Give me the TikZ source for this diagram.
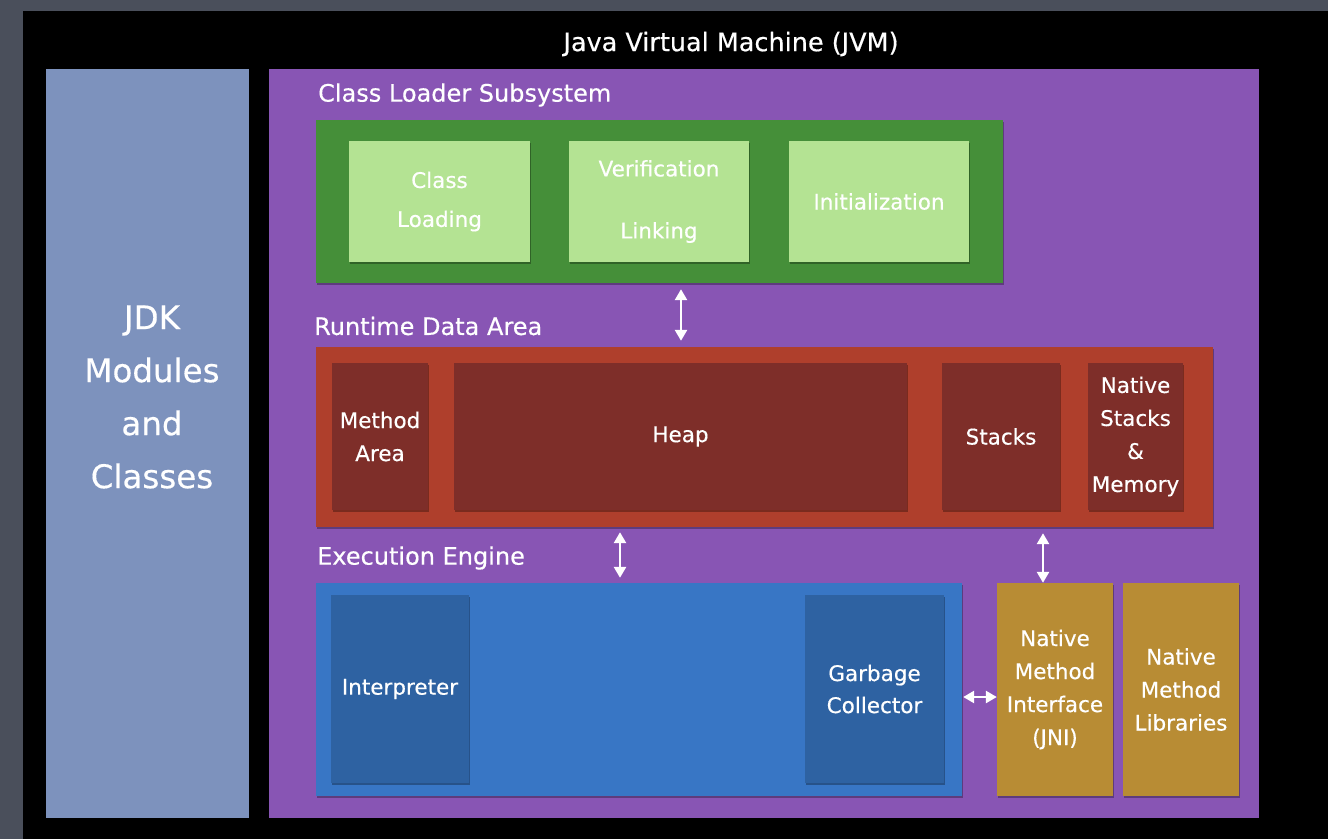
\documentclass[tikz,border=0pt]{standalone}
\usepackage{fontspec}
\setmainfont{DejaVu Sans}[FakeBold=0.4]
\usetikzlibrary{arrows.meta,shadows}
\definecolor{bggrey}{HTML}{4A4F5B}
\definecolor{jdkblue}{HTML}{7D92BD}
\definecolor{jvmpurple}{HTML}{8855B4}
\definecolor{gout}{HTML}{458F39}
\definecolor{gin}{HTML}{B4E393}
\definecolor{rout}{HTML}{AF3F2C}
\definecolor{rin}{HTML}{7E2E29}
\definecolor{bout}{HTML}{3876C5}
\definecolor{bin}{HTML}{2E62A2}
\definecolor{gold}{HTML}{B88C34}
\begin{document}
\begin{tikzpicture}[x=1pt,y=-1pt,
  box/.style={rectangle, draw=none, inner sep=0pt, text=white, align=center},
  shad/.style={drop shadow={shadow xshift=1pt, shadow yshift=-2pt, opacity=.3, fill=black}},
  inner/.style={box, shad, font=\fontsize{21.5}{#1}\selectfont},
  inner/.default=33,
  ttl/.style={text=white, anchor=west, inner sep=0pt, font=\fontsize{24}{28}\selectfont},
  dbl/.style={white, line width=2.6pt, {Triangle[width=12pt,length=11pt]}-{Triangle[width=12pt,length=11pt]}}
]
\useasboundingbox (0,0) rectangle (1328,839);
\fill[bggrey] (0,0) rectangle (1328,839);
\fill[black] (23,11) rectangle (1328,839);

\node[text=white, inner sep=0pt, font=\fontsize{25.5}{28}\selectfont] (jvmtitle) at (731,44) {Java Virtual Machine (JVM)};

% JDK column
\node[box, fill=jdkblue, minimum width=203pt, minimum height=749pt] (jdk) at (147.5,443.5) {};
\node[text=white, align=center, inner sep=0pt, font=\fontsize{32.5}{53}\selectfont] (jdktext) at (152,397) {JDK\\Modules\\and\\Classes};

% JVM area
\node[box, fill=jvmpurple, minimum width=990pt, minimum height=749pt] (jvm) at (764,443.5) {};

% Class loader subsystem
\node[ttl] (cltitle) at (318,95) {Class Loader Subsystem};
\node[box, shad, fill=gout, minimum width=687pt, minimum height=163pt] (green) at (659.5,201.5) {};
\node[inner=39, fill=gin, minimum width=181pt, minimum height=121pt] (cload) at (439.5,201.5) {Class\\Loading};
\node[inner=62, fill=gin, minimum width=180pt, minimum height=121pt] (link) at (659,201.5) {Verification\\Linking};
\node[inner, fill=gin, minimum width=180pt, minimum height=121pt] (init) at (879,201.5) {Initialization};

% Runtime data area
\node[ttl] (rdtitle) at (314,326) {Runtime Data Area};
\node[box, shad, fill=rout, minimum width=897pt, minimum height=180pt] (red) at (764.5,437) {};
\node[inner, fill=rin, minimum width=96pt, minimum height=147pt] (marea) at (380,436.5) {Method\\Area};
\node[inner, fill=rin, minimum width=453pt, minimum height=147pt] (heap) at (680.5,436.5) {Heap};
\node[inner, fill=rin, minimum width=118pt, minimum height=147pt] (stacks) at (1001,436.5) {Stacks};
\node[inner, fill=rin, minimum width=95pt, minimum height=147pt] (nstacks) at (1135.5,436.5) {Native\\Stacks\\\&\\Memory};

% Execution engine
\node[ttl] (eetitle) at (317,558) {Execution Engine};
\node[box, shad, fill=bout, minimum width=646pt, minimum height=213pt] (blue) at (639,689.5) {};
\node[inner, fill=bin, minimum width=138pt, minimum height=188pt] (interp) at (400,689) {Interpreter};
\node[inner=32, fill=bin, minimum width=139pt, minimum height=188pt] (gc) at (874.5,689) {Garbage\\Collector};

% Native
\node[inner, fill=gold, minimum width=116pt, minimum height=213pt] (jni) at (1055,689.5) {Native\\Method\\Interface\\(JNI)};
\node[inner, fill=gold, minimum width=116pt, minimum height=213pt] (nlib) at (1181,689.5) {Native\\Method\\Libraries};

% connectors
\coordinate (a1) at (681,0);
\coordinate (a2) at (620,0);
\coordinate (a3) at (1043,0);
\coordinate (a4) at (0,697);
\draw[dbl, shorten <=6pt, shorten >=6pt] (green.south -| a1) -- (red.north -| a1);
\draw[dbl, shorten <=5pt, shorten >=5pt] (red.south -| a2) -- (blue.north -| a2);
\draw[dbl, shorten <=6pt, shorten >=0pt] (red.south -| a3) -- (jni.north -| a3);
\draw[dbl, shorten <=1pt, shorten >=0pt] (blue.east |- a4) -- (jni.west |- a4);
\end{tikzpicture}
\end{document}
